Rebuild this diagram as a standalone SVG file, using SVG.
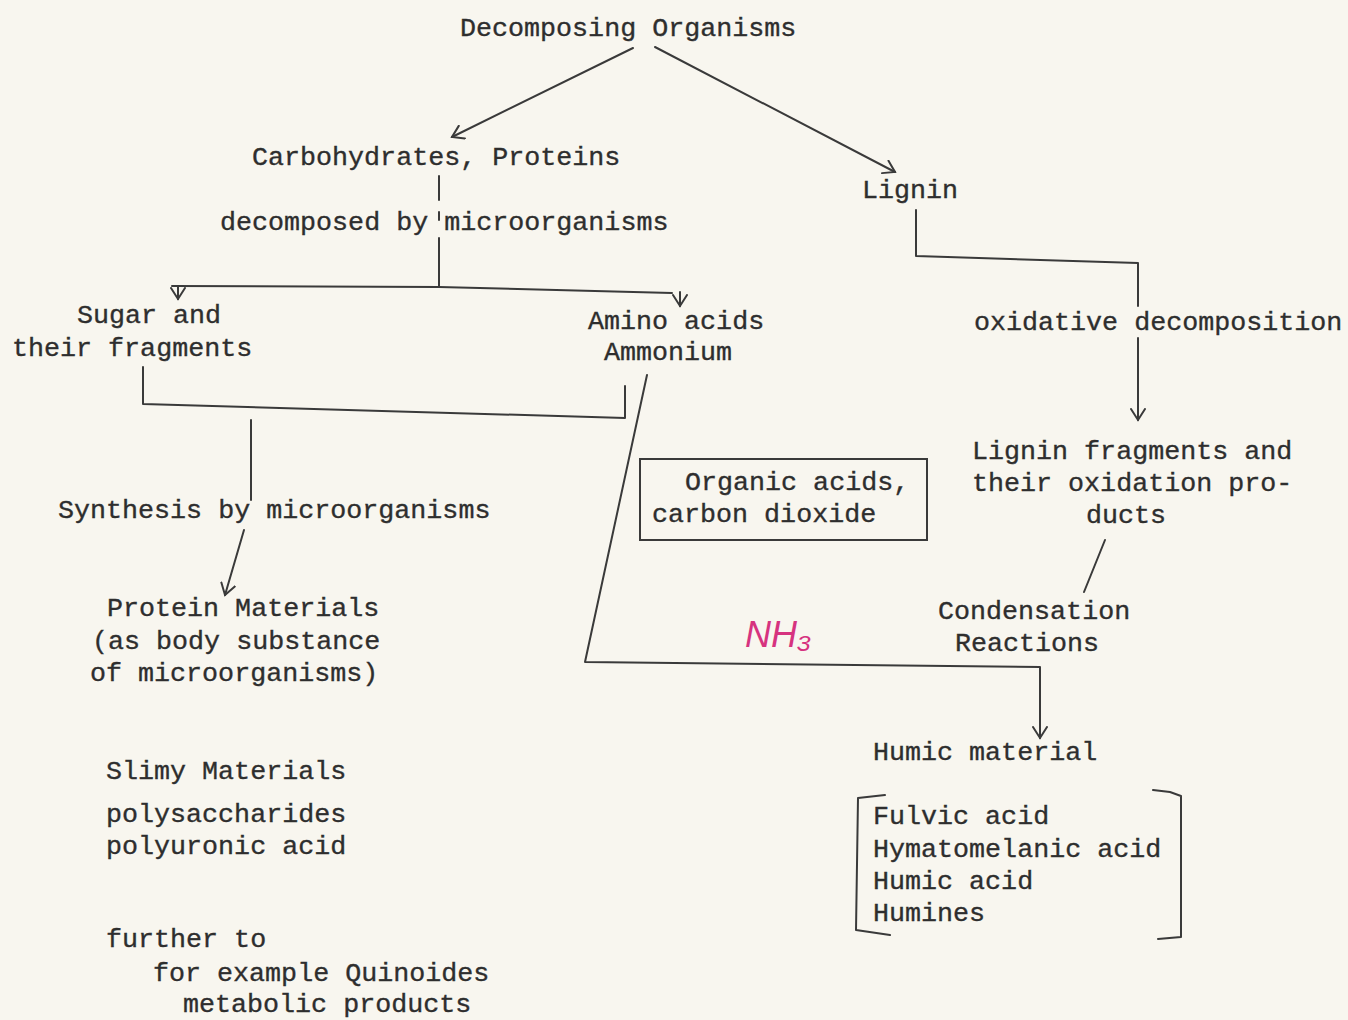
<svg xmlns="http://www.w3.org/2000/svg" width="1348" height="1020" viewBox="0 0 1348 1020">
<style>
.t{font-family:"Liberation Mono","Courier New",monospace;font-size:26.7px;fill:#2e2e2e;stroke:#2e2e2e;stroke-width:0.35}
.l{fill:none;stroke:#3a3a3a;stroke-width:2;stroke-linecap:round;stroke-linejoin:round}
.nh{font-family:"Liberation Sans",sans-serif;font-style:italic;font-size:36px;fill:#d6337f}
</style>
<defs>
<marker id="v" viewBox="-12 -8 14 16" markerWidth="14" markerHeight="16" refX="0" refY="0" orient="auto" markerUnits="userSpaceOnUse">
<path d="M-11,-7 L0,0 L-11,7" fill="none" stroke="#3a3a3a" stroke-width="2" stroke-linecap="round"/>
</marker>
</defs>
<rect width="1348" height="1020" fill="#f8f6ef"/>
<g id="connectors">
<line class="l" x1="633" y1="48" x2="452" y2="137" marker-end="url(#v)"/>
<line class="l" x1="655" y1="47" x2="895" y2="172" marker-end="url(#v)"/>
<line class="l" x1="439" y1="176" x2="439" y2="200"/>
<line class="l" x1="439" y1="212" x2="439" y2="220"/>
<line class="l" x1="439" y1="238" x2="439" y2="287"/>
<polyline class="l" points="172,286 439,287 672,293"/>
<line class="l" x1="178" y1="286" x2="178" y2="299" marker-end="url(#v)"/>
<line class="l" x1="680" y1="292" x2="680" y2="306" marker-end="url(#v)"/>
<polyline class="l" points="143,367 143,404 625,418 625,386"/>
<line class="l" x1="251" y1="420" x2="251" y2="500"/>
<line class="l" x1="244" y1="530" x2="225" y2="595" marker-end="url(#v)"/>
<polyline class="l" points="647,375 585,662 1040,667 1040,738" marker-end="url(#v)"/>
<polyline class="l" points="916,210 916,256 1138,263 1138,306"/>
<line class="l" x1="1138" y1="338" x2="1138" y2="420" marker-end="url(#v)"/>
<line class="l" x1="1105" y1="540" x2="1084" y2="592"/>
</g>
<g id="n-decomposing"><text class="t" x="460" y="36">Decomposing Organisms</text></g>
<g id="n-carbo"><text class="t" x="252" y="165">Carbohydrates, Proteins</text></g>
<g id="n-lignin"><text class="t" x="862" y="198">Lignin</text></g>
<g id="l-decomposed"><text class="t" x="220" y="230">decomposed by microorganisms</text></g>
<g id="n-sugar"><text class="t" x="77" y="323">Sugar and</text><text class="t" x="12" y="356">their fragments</text></g>
<g id="n-amino"><text class="t" x="588" y="329">Amino acids</text><text class="t" x="604" y="360">Ammonium</text></g>
<g id="l-oxidative"><text class="t" x="974" y="330">oxidative decomposition</text></g>
<g id="n-organic"><rect x="640" y="459" width="287" height="81" fill="none" stroke="#3a3a3a" stroke-width="2"/><text class="t" x="685" y="490">Organic acids,</text><text class="t" x="652" y="522">carbon dioxide</text></g>
<g id="n-ligfrag"><text class="t" x="972" y="459">Lignin fragments and</text><text class="t" x="972" y="491">their oxidation pro-</text><text class="t" x="1086" y="523">ducts</text></g>
<g id="l-synthesis"><text class="t" x="58" y="518">Synthesis by microorganisms</text></g>
<g id="n-protein"><text class="t" x="107" y="616">Protein Materials</text><text class="t" x="92" y="649">(as body substance</text><text class="t" x="90" y="681">of microorganisms)</text></g>
<g id="l-condensation"><text class="t" x="938" y="619">Condensation</text><text class="t" x="955" y="651">Reactions</text></g>
<g id="l-nh3"><text class="nh" x="745" y="647">NH₃</text></g>
<g id="n-humic"><text class="t" x="873" y="760">Humic material</text></g>
<g id="n-humic-list">
<polyline class="l" points="885,795 858,798 856,930 890,935"/>
<polyline class="l" points="1153,790 1170,792 1181,796 1181,937 1158,939"/>
<text class="t" x="873" y="824">Fulvic acid</text><text class="t" x="873" y="857">Hymatomelanic acid</text><text class="t" x="873" y="889">Humic acid</text><text class="t" x="873" y="921">Humines</text></g>
<g id="n-slimy"><text class="t" x="106" y="779">Slimy Materials</text><text class="t" x="106" y="822">polysaccharides</text><text class="t" x="106" y="854">polyuronic acid</text></g>
<g id="n-further"><text class="t" x="106" y="947">further to</text><text class="t" x="153" y="981">for example Quinoides</text><text class="t" x="183" y="1012">metabolic products</text></g>
</svg>
